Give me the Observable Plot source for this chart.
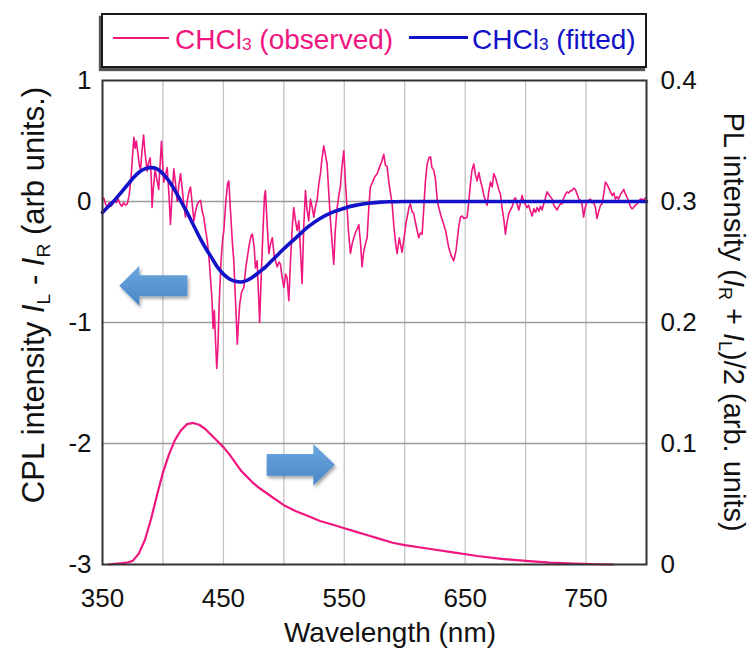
<!DOCTYPE html>
<html>
<head>
<meta charset="utf-8">
<script src="https://cdn.jsdelivr.net/npm/d3@7"></script>
<script src="https://cdn.jsdelivr.net/npm/@observablehq/plot@0.6"></script>
<style>
  html, body { margin: 0; padding: 0; background: #fff; }
  #chart { position: relative; width: 753px; height: 650px; font-family: "Liberation Sans", Arial, sans-serif; }
  #chart svg { position: absolute; left: 0; top: 0; }
  #legend {
    position: absolute; left: 101px; top: 13px; width: 542px; height: 51px;
    border: 2px solid #1a1a1a; background: #fff; box-shadow: -2px 3px 1px #555;
    font-size: 28px; z-index: 2;
  }
  #legend .swatch { position: absolute; }
  #legend .lab { position: absolute; top: 11px; line-height: 28px; white-space: nowrap; }
  #legend sub { font-size: 0.62em; vertical-align: -0.08em; line-height: 0; }
</style>
</head>
<body>
<div id="chart">
  <div id="legend">
    <span class="swatch" style="left:10px; top:22px; width:56px; height:2px; background:#f0167f"></span>
    <span class="lab" style="left:72px; color:#f0167f">CHCl<sub>3</sub> (observed)</span>
    <span class="swatch" style="left:306px; top:21px; width:59px; height:3px; background:#1212c8"></span>
    <span class="lab" style="left:369px; color:#1212c8">CHCl<sub>3</sub> (fitted)</span>
  </div>
</div>
<script>
// CPL spectrum of the sample in CHCl3: [wavelength (nm), IL - IR (arb. units)]
const observedCPL = [
  [350, 0.02], [351, 0.03], [352.5, -0.02], [354, -0.05], [355.5, -0.01], [357, -0.04], [358.5, -0.02],
  [360, 0.01], [361.5, -0.01], [363, 0.02], [364.5, -0.02], [366, -0.04], [367.5, -0.01], [369, -0.03],
  [370.5, -0.02], [372, 0.05], [373.5, 0.18], [375, 0.40], [376, 0.53], [377, 0.44], [378, 0.50],
  [379, 0.42], [380.5, 0.30], [381.5, 0.26], [382.5, 0.40], [384, 0.55], [385, 0.42], [386, 0.33],
  [387, 0.25], [388, 0.32], [389.5, 0.36], [390.5, 0.15], [391, -0.05], [392, 0.10], [393.5, 0.26],
  [395, 0.18], [396.5, 0.10], [397.5, 0.28], [398.8, 0.50], [399.8, 0.30], [400.7, 0.16], [402, 0.22],
  [403.5, 0.28], [405, 0.05], [406.2, -0.19], [407.5, 0.05], [409, 0.27], [410.5, 0.14], [411.8, 0.00],
  [413, 0.12], [414.5, 0.23], [416, 0.10], [417.5, -0.05], [418.7, -0.13], [420, 0.00], [421.5, 0.08],
  [422.8, 0.12], [424, 0.00], [425.6, -0.16], [427, -0.08], [428.5, -0.02], [430, 0.00], [431.1, 0.01],
  [432.5, -0.08], [433.8, -0.13], [435, -0.22], [436.6, -0.32], [438, -0.45], [439.3, -0.63],
  [440.5, -0.80], [441.5, -1.05], [442.5, -0.90], [443.5, -1.15], [444.5, -1.38], [445.5, -1.20],
  [446.5, -0.85], [448, -0.50], [449.5, -0.30], [450.4, -0.24], [452, 0.00], [453.5, 0.15], [454.5, 0.17],
  [456, -0.10], [457.5, -0.35], [458.6, -0.49], [459.5, -0.70], [460.5, -0.93], [461.5, -1.18],
  [462.5, -1.00], [463.5, -0.85], [465, -0.75], [466.9, -0.71], [468.5, -0.55], [470, -0.45],
  [471.5, -0.35], [473, -0.28], [474, -0.27], [475.5, -0.38], [476.5, -0.55], [477.9, -0.49],
  [479, -0.75], [480, -1.00], [481, -0.70], [482.5, -0.30], [484, 0.05], [484.8, 0.09], [486, -0.15],
  [487.6, -0.43], [489, -0.35], [490.5, -0.30], [492, -0.45], [494.5, -0.54], [496, -0.50],
  [497.2, -0.52], [498.5, -0.62], [500, -0.71], [501.5, -0.60], [502.7, -0.63], [504.1, -0.82],
  [505.5, -0.50], [506.8, -0.24], [508.2, -0.05], [509.5, -0.15], [511, -0.24], [512.4, -0.16],
  [513.5, -0.35], [515.1, -0.68], [516.5, -0.20], [517.9, 0.09], [519, -0.05], [520.6, -0.16],
  [522, 0.02], [523.5, -0.05], [524.8, -0.13], [526, -0.05], [527.5, 0.01], [529, 0.15], [530.3, 0.23],
  [531.5, 0.35], [533, 0.46], [534.5, 0.38], [535.8, 0.31], [537, 0.10], [538.6, -0.16], [540, -0.35],
  [541.3, -0.52], [542.5, -0.25], [544.1, -0.05], [545.5, 0.05], [546.8, 0.12], [548, 0.28],
  [549.6, 0.42], [551, 0.15], [552.3, -0.05], [553.5, -0.25], [555.1, -0.43], [556.5, -0.35],
  [557.9, -0.30], [559.5, -0.25], [561, -0.22], [562, -0.19], [563.5, -0.35], [564.7, -0.54],
  [566, -0.42], [567.5, -0.35], [568.9, -0.30], [570.3, -0.05], [571.6, 0.12], [573, 0.15], [575, 0.20],
  [577.2, 0.23], [579, 0.28], [581, 0.33], [582.7, 0.39], [584, 0.30], [585.4, 0.29], [587, 0.15],
  [588.5, 0.05], [589.6, -0.02], [591, -0.20], [592.5, -0.35], [593.7, -0.43], [595.5, -0.30],
  [597.8, -0.42], [599.5, -0.30], [601, -0.18], [602, -0.13], [603.5, -0.05], [604.7, -0.02],
  [606, -0.08], [607.5, -0.10], [609, -0.18], [610.5, -0.25], [611.6, -0.30], [613, -0.26],
  [614.4, -0.27], [615.5, -0.10], [617, 0.15], [618.5, 0.31], [620, 0.36], [621.3, 0.37], [622.5, 0.28],
  [624, 0.26], [625.5, 0.18], [627, 0.00], [628.2, -0.05], [630, -0.12], [632.3, -0.19], [634, -0.25],
  [636.4, -0.38], [638.5, -0.45], [640.6, -0.49], [642.5, -0.40], [644.7, -0.21], [646.1, -0.13],
  [647.5, -0.12], [649, -0.14], [651.6, -0.13], [653, 0.00], [654.4, 0.15], [655.5, 0.25], [657.1, 0.31],
  [658.5, 0.22], [659.9, 0.17], [661.3, 0.24], [662.5, 0.18], [664, 0.12], [665.5, 0.05], [667, 0.00],
  [668.2, -0.03], [669.5, 0.08], [670.9, 0.16], [672.3, 0.12], [673.7, 0.23], [675, 0.20], [676.4, 0.15],
  [677.8, 0.10], [679.2, 0.06], [680.5, -0.05], [682, -0.15], [683.3, -0.27], [684.5, -0.18],
  [686, -0.10], [687.5, -0.07], [689, -0.04], [690.5, 0.02], [691.6, 0.03], [693, -0.02], [694.4, -0.07],
  [695.8, -0.01], [697.1, 0.05], [698.5, 0.00], [700, -0.03], [701.2, -0.05], [702.5, -0.03],
  [704, -0.08], [705.4, -0.12], [706.8, -0.06], [708.2, -0.09], [709.5, -0.05], [711, -0.08],
  [712.3, -0.04], [713.6, -0.07], [715, -0.02], [716.4, 0.03], [717.8, 0.08], [719, 0.06], [720.5, 0.04],
  [721.9, 0.02], [723.3, -0.03], [724.6, -0.05], [726, -0.07], [727.4, -0.04], [728.8, -0.02],
  [730.2, -0.02], [731.5, 0.03], [733, 0.06], [734.3, 0.08], [735.7, 0.07], [737, 0.09], [738.5, 0.09],
  [739.9, 0.11], [741.2, 0.10], [742.6, 0.06], [744, 0.02], [745.4, 0.01], [746.8, -0.03], [748, -0.13],
  [749.3, -0.05], [750.7, 0.00], [752.2, 0.01], [753.6, 0.02], [755, -0.01], [756.4, -0.01],
  [757.8, -0.05], [759, -0.14], [760.5, -0.08], [762, -0.03], [763.3, -0.02], [764.6, 0.06], [766, 0.16],
  [767.5, 0.14], [768.8, 0.11], [770.2, 0.08], [771.6, 0.05], [773, 0.07], [774.3, 0.02], [775.7, 0.04],
  [777, 0.02], [778.5, 0.06], [780, 0.08], [781.2, 0.10], [782.6, 0.06], [783.9, 0.035], [785.3, 0.00],
  [786.7, -0.04], [788, -0.06], [789.4, -0.05], [790.8, -0.03], [792.2, -0.02], [793.5, 0.00],
  [795, 0.02], [796.3, 0.02], [797.7, 0.01], [799, 0.03]
];

// Fitted CPL curve
const fitWavelength = [350, 355, 360, 365, 370, 375, 380, 385, 390, 395, 400, 405, 410, 415, 420, 425,
  430, 435, 440, 445, 450, 455, 460, 465, 470, 475, 480, 485, 490, 495, 500, 510, 520, 530, 540, 550,
  560, 570, 580, 590, 600, 650, 700, 750, 800];
const fitCPL = [-0.09, -0.04, 0.01, 0.07, 0.13, 0.19, 0.24, 0.27, 0.28, 0.27, 0.23, 0.17, 0.09, 0.00,
  -0.09, -0.19, -0.29, -0.38, -0.46, -0.54, -0.60, -0.64, -0.66, -0.665, -0.65, -0.62, -0.58, -0.54,
  -0.49, -0.44, -0.39, -0.30, -0.21, -0.14, -0.09, -0.055, -0.03, -0.015, -0.005, -0.002, 0, 0, 0, 0, 0];

// PL spectrum, (IR + IL)/2 on the right-hand axis
const plWavelength = [355, 360, 365, 370, 375, 380, 385, 390, 395, 400, 405, 410, 415, 420, 425, 430,
  435, 440, 445, 450, 455, 460, 465, 470, 475, 480, 490, 500, 510, 520, 530, 540, 550, 560, 570, 580,
  590, 600, 620, 640, 660, 680, 700, 720, 740, 760, 772];
const plIntensity = [0, 0.0005, 0.001, 0.0015, 0.003, 0.009, 0.02, 0.037, 0.057, 0.076, 0.091, 0.103,
  0.111, 0.116, 0.117, 0.1155, 0.112, 0.107, 0.102, 0.097, 0.091, 0.084, 0.077, 0.072, 0.067, 0.063,
  0.056, 0.049, 0.044, 0.040, 0.036, 0.033, 0.030, 0.027, 0.024, 0.021, 0.018, 0.016, 0.013, 0.010,
  0.007, 0.0047, 0.003, 0.0015, 0.0007, 0.0002, 0];

// Axes
const xTickValues = [350, 450, 550, 650, 750];
const xGridValues = [400, 450, 500, 550, 600, 650, 700, 750];
const cplTicks = [-3, -2, -1, 0, 1];
const cplGrid = [-2, -1, 0];
const plTicks = [0, 0.1, 0.2, 0.3, 0.4];

const pink = "#f0167f";
const blue = "#1212c8";

// The PL axis (0–0.4) shares the CPL axis (−3…1): PL 0 ↔ CPL −3, PL 0.4 ↔ CPL 1
const plToCpl = v => -3 + v * 10;
const cplToPl = v => (v + 3) / 10;

const fitted = fitWavelength.map((w, i) => ({w, v: fitCPL[i]}));
const pl = plWavelength.map((w, i) => ({w, v: plToCpl(plIntensity[i])}));

const plot = Plot.plot({
  width: 753,
  height: 650,
  marginTop: 80,
  marginBottom: 86,
  marginLeft: 102,
  marginRight: 107,
  style: {fontFamily: "'Liberation Sans', Arial, sans-serif", fontSize: "26px", color: "#111", background: "transparent", overflow: "visible"},
  x: {domain: [350, 800]},
  y: {domain: [-3, 1]},
  marks: [
    Plot.ruleX(xGridValues, {stroke: "#c4c4c4", strokeWidth: 1.3}),
    Plot.ruleY(cplGrid, {stroke: "#9a9a9a", strokeWidth: 1.3}),
    Plot.line(pl, {x: "w", y: "v", stroke: pink, strokeWidth: 2.2}),
    Plot.line(observedCPL, {x: d => d[0], y: d => d[1], stroke: pink, strokeWidth: 1.6, strokeLinejoin: "round"}),
    Plot.line(fitted, {x: "w", y: "v", stroke: blue, strokeWidth: 3.6, curve: "catmull-rom"}),
    Plot.frame({stroke: "#333", strokeWidth: 2}),
    Plot.axisX({ticks: xTickValues, tickSize: 0, tickPadding: 24, label: null, tickFormat: d => String(d)}),
    Plot.axisY({ticks: cplTicks, tickSize: 0, tickPadding: 11, label: null, tickFormat: d => String(d)}),
    Plot.axisY({anchor: "right", ticks: plTicks.map(plToCpl), tickSize: 0, tickPadding: 14, label: null,
      tickFormat: d => String(Math.round(cplToPl(d) * 10) / 10)})
  ]
});

document.getElementById("chart").appendChild(plot);

const svg = d3.select(plot);
const xs = plot.scale("x"), ys = plot.scale("y");
const px = v => xs.apply(v), py = v => ys.apply(v);

// Block arrows pointing to the axis each curve belongs to (data units)
const arrows = [
  {tail: 420.6, headBase: 380.9, tip: 364.3, y: -0.70, body: 0.087, head: 0.165},
  {tail: 486.2, headBase: 524.8, tip: 542.7, y: -2.18, body: 0.09, head: 0.172}
];

const defs = svg.append("defs");
const grad = defs.append("linearGradient").attr("id", "arrowFill").attr("x1", 0).attr("y1", 0).attr("x2", 0).attr("y2", 1);
grad.append("stop").attr("offset", "0%").attr("stop-color", "#6ba7df");
grad.append("stop").attr("offset", "100%").attr("stop-color", "#4a86c6");
const shadow = defs.append("filter").attr("id", "arrowShadow").attr("x", "-20%").attr("y", "-20%").attr("width", "150%").attr("height", "170%");
shadow.append("feDropShadow").attr("dx", 1.5).attr("dy", 2.5).attr("stdDeviation", 1.8).attr("flood-color", "#000").attr("flood-opacity", 0.35);

svg.append("g").selectAll("path").data(arrows).join("path")
  .attr("d", a => {
    const pts = [
      [a.tail, a.y + a.body], [a.headBase, a.y + a.body], [a.headBase, a.y + a.head], [a.tip, a.y],
      [a.headBase, a.y - a.head], [a.headBase, a.y - a.body], [a.tail, a.y - a.body]
    ];
    return "M" + pts.map(p => px(p[0]) + "," + py(p[1])).join("L") + "Z";
  })
  .attr("fill", "url(#arrowFill)")
  .attr("filter", "url(#arrowShadow)");

// Axis titles with italic I and subscripts
const titleFont = "'Liberation Sans', Arial, sans-serif";
function addParts(text, parts, size) {
  let shifted = false;
  for (const p of parts) {
    const t = text.append("tspan").text(p.t);
    if (p.i) t.attr("font-style", "italic");
    if (p.sub) { t.attr("font-size", size * 0.62).attr("dy", size * 0.18); shifted = true; }
    else if (shifted) { t.attr("dy", -size * 0.18); shifted = false; }
  }
}

svg.append("text")
  .attr("x", 390).attr("y", 642).attr("text-anchor", "middle")
  .attr("font-family", titleFont).attr("font-size", 28).attr("fill", "#111")
  .text("Wavelength (nm)");

const leftTitle = svg.append("text")
  .attr("transform", "translate(44,295) rotate(-90)").attr("text-anchor", "middle")
  .attr("font-family", titleFont).attr("font-size", 31).attr("fill", "#111");
addParts(leftTitle, [
  {t: "CPL intensity "}, {t: "I", i: true}, {t: "L", sub: true}, {t: " - "},
  {t: "I", i: true}, {t: "R", sub: true}, {t: " (arb units.)"}
], 31);

const rightTitle = svg.append("text")
  .attr("transform", "translate(724,322) rotate(90)").attr("text-anchor", "middle")
  .attr("font-family", titleFont).attr("font-size", 29).attr("fill", "#111");
addParts(rightTitle, [
  {t: "PL intensity ("}, {t: "I", i: true}, {t: "R", sub: true}, {t: " + "},
  {t: "I", i: true}, {t: "L", sub: true}, {t: ")/2 (arb. units)"}
], 29);
</script>
</body>
</html>
